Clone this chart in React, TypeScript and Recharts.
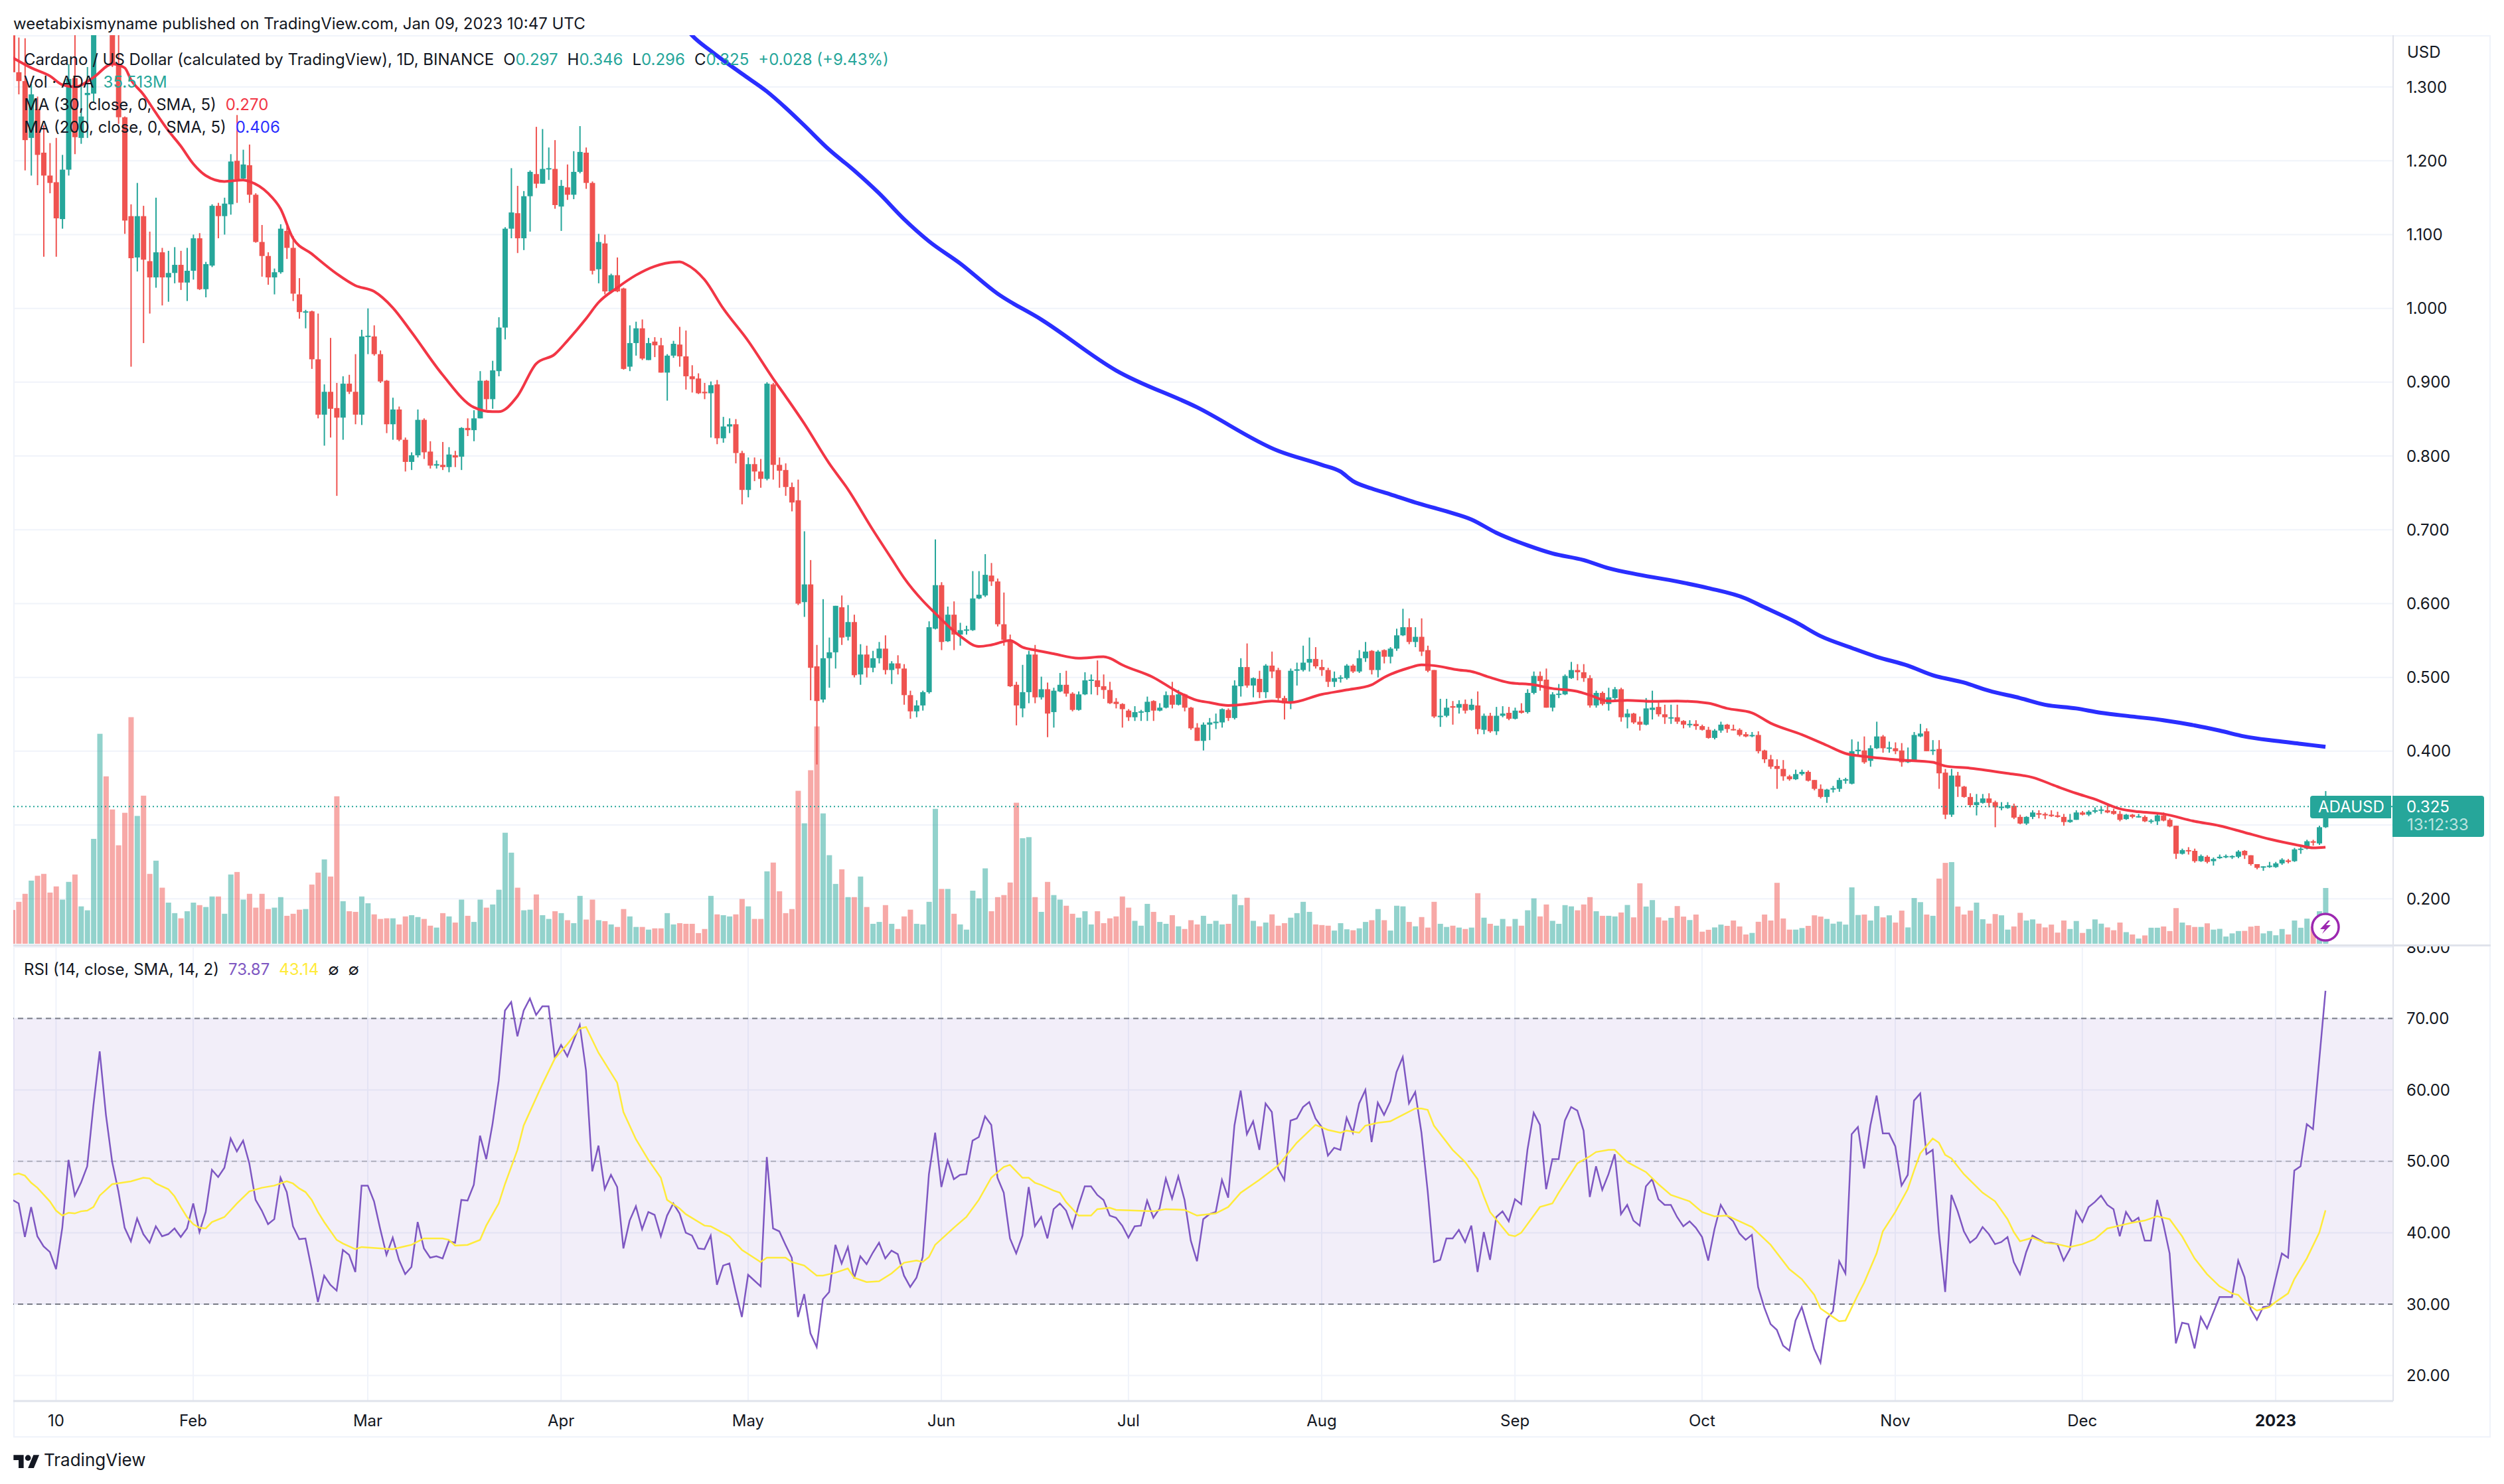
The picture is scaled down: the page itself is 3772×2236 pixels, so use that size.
import React from "react";
import { ComposedChart, Bar, Line, XAxis, YAxis, CartesianGrid, ReferenceLine, ReferenceArea } from "recharts";

// [open, high, low, close] per daily candle
const ohlcJan = [
[1.37,1.4,1.3,1.32],[1.32,1.367,1.29,1.308],[1.308,1.366,1.187,1.228],[1.231,1.304,1.18,1.29],[1.27,1.287,1.167,1.208],[1.211,1.248,1.07,1.18],[1.18,1.224,1.156,1.17],[1.171,1.231,1.07,1.122],[1.121,1.208,1.108,1.188],[1.188,1.331,1.18,1.311],
[1.312,1.38,1.209,1.232],[1.231,1.304,1.223,1.26],[1.289,1.327,1.231,1.292],[1.291,1.46,1.28,1.43],[1.43,1.52,1.4,1.49],[1.49,1.55,1.42,1.45],[1.45,1.47,1.327,1.331],[1.331,1.4,1.25,1.259],[1.259,1.26,1.101,1.119],[1.125,1.141,0.921,1.068],
[1.069,1.17,1.05,1.125],[1.125,1.139,0.953,1.066],[1.064,1.104,0.993,1.042],[1.042,1.15,1.028,1.076],[1.076,1.082,1.004,1.042],[1.042,1.078,1.009,1.048],[1.048,1.083,1.034,1.059],[1.059,1.078,1.025,1.035],[1.035,1.082,1.01,1.051]];
const ohlcFeb = [
[1.051,1.1,1.039,1.095],[1.095,1.102,1.025,1.026],[1.026,1.063,1.015,1.06],[1.058,1.141,1.056,1.139],[1.139,1.143,1.095,1.125],[1.125,1.15,1.1,1.142],[1.141,1.209,1.127,1.199],[1.2,1.262,1.143,1.175],[1.176,1.215,1.174,1.195],[1.194,1.222,1.143,1.154],
[1.154,1.156,1.089,1.09],[1.09,1.113,1.043,1.071],[1.071,1.076,1.032,1.042],[1.042,1.054,1.019,1.049],[1.049,1.114,1.047,1.108],[1.105,1.111,1.067,1.082],[1.082,1.098,1.01,1.02],[1.019,1.041,0.986,0.995],[0.995,0.998,0.973,0.996],[0.996,0.997,0.918,0.931],
[0.931,0.993,0.851,0.856],[0.856,0.897,0.814,0.887],[0.887,0.96,0.825,0.864],[0.865,0.899,0.746,0.852],[0.852,0.908,0.822,0.898],[0.898,0.91,0.884,0.887],[0.887,0.938,0.843,0.856],[0.856,0.971,0.842,0.962]];
const ohlcMar = [
[0.962,1.0,0.938,0.963],[0.962,0.977,0.936,0.938],[0.938,0.943,0.899,0.901],[0.902,0.903,0.831,0.843],[0.843,0.879,0.822,0.863],[0.863,0.867,0.82,0.822],[0.822,0.825,0.779,0.792],[0.792,0.805,0.781,0.801],[0.801,0.863,0.798,0.849],[0.849,0.851,0.796,0.805],
[0.806,0.82,0.783,0.787],[0.787,0.794,0.783,0.789],[0.788,0.819,0.781,0.785],[0.785,0.812,0.778,0.802],[0.801,0.807,0.785,0.798],[0.799,0.839,0.781,0.838],[0.838,0.851,0.827,0.835],[0.835,0.862,0.82,0.851],[0.851,0.915,0.851,0.902],[0.902,0.903,0.863,0.877],
[0.877,0.929,0.864,0.916],[0.915,0.988,0.908,0.974],[0.974,1.11,0.958,1.108],[1.108,1.19,1.095,1.13],[1.129,1.166,1.075,1.095],[1.095,1.159,1.079,1.152],[1.152,1.187,1.104,1.185],[1.182,1.246,1.163,1.169],[1.169,1.243,1.169,1.189],[1.189,1.218,1.174,1.19],[1.189,1.228,1.135,1.14]];
const ohlcApr = [
[1.138,1.174,1.105,1.166],[1.164,1.195,1.147,1.154],[1.154,1.213,1.148,1.185],[1.185,1.247,1.183,1.212],[1.211,1.218,1.162,1.17],[1.17,1.172,1.046,1.051],[1.053,1.101,1.034,1.09],[1.088,1.1,1.019,1.023],[1.023,1.047,1.021,1.045],[1.045,1.069,1.022,1.023],
[1.027,1.028,0.917,0.918],[0.921,0.977,0.915,0.953],[0.953,0.982,0.936,0.973],[0.973,0.985,0.93,0.932],[0.93,0.96,0.93,0.953],[0.955,0.961,0.934,0.95],[0.95,0.96,0.913,0.913],[0.913,0.938,0.875,0.936],[0.936,0.956,0.933,0.952],[0.951,0.975,0.921,0.935],
[0.935,0.97,0.89,0.908],[0.908,0.923,0.886,0.904],[0.905,0.912,0.884,0.885],[0.887,0.899,0.877,0.885],[0.885,0.901,0.825,0.896],[0.897,0.903,0.816,0.824],[0.824,0.853,0.818,0.84],[0.84,0.851,0.831,0.843],[0.843,0.85,0.79,0.804],[0.804,0.807,0.7345,0.754]];
const ohlcMay = [
[0.754,0.798,0.744,0.789],[0.789,0.798,0.766,0.779],[0.779,0.796,0.757,0.769],[0.769,0.9,0.767,0.898],[0.897,0.899,0.768,0.788],[0.788,0.798,0.757,0.78],[0.781,0.79,0.746,0.758],[0.758,0.764,0.725,0.737],[0.74,0.768,0.598,0.6],[0.602,0.698,0.582,0.626],
[0.626,0.659,0.469,0.513],[0.515,0.544,0.382,0.468],[0.47,0.606,0.466,0.526],[0.526,0.554,0.486,0.534],[0.534,0.597,0.512,0.597],[0.595,0.611,0.544,0.554],[0.555,0.598,0.55,0.575],[0.575,0.585,0.5,0.503],[0.504,0.545,0.49,0.531],[0.531,0.543,0.5,0.513],
[0.513,0.536,0.507,0.526],[0.526,0.548,0.519,0.539],[0.539,0.557,0.504,0.51],[0.51,0.522,0.491,0.519],[0.519,0.53,0.504,0.512],[0.512,0.518,0.463,0.476],[0.476,0.482,0.444,0.454],[0.454,0.469,0.446,0.462],[0.462,0.482,0.455,0.48],[0.48,0.576,0.478,0.568],[0.566,0.687,0.565,0.625]];
const ohlcJun = [
[0.625,0.629,0.537,0.548],[0.549,0.596,0.548,0.585],[0.585,0.603,0.537,0.558],[0.558,0.574,0.543,0.564],[0.564,0.57,0.558,0.565],[0.564,0.644,0.563,0.607],[0.607,0.644,0.606,0.612],[0.611,0.667,0.609,0.639],[0.638,0.655,0.624,0.63],[0.63,0.634,0.569,0.572],
[0.572,0.615,0.543,0.551],[0.551,0.558,0.487,0.488],[0.49,0.494,0.435,0.462],[0.458,0.517,0.446,0.48],[0.48,0.536,0.465,0.531],[0.531,0.544,0.465,0.473],[0.473,0.501,0.47,0.484],[0.484,0.493,0.419,0.451],[0.453,0.486,0.432,0.482],[0.481,0.506,0.48,0.49],
[0.49,0.509,0.474,0.478],[0.478,0.48,0.454,0.456],[0.456,0.481,0.455,0.477],[0.477,0.507,0.476,0.496],[0.496,0.504,0.477,0.497],[0.496,0.523,0.476,0.487],[0.488,0.504,0.471,0.483],[0.483,0.494,0.464,0.465],[0.467,0.472,0.458,0.464],[0.464,0.465,0.432,0.457]];
const ohlcJul = [
[0.455,0.457,0.441,0.446],[0.446,0.461,0.441,0.453],[0.453,0.456,0.441,0.454],[0.453,0.474,0.441,0.467],[0.468,0.469,0.441,0.455],[0.455,0.465,0.454,0.459],[0.459,0.481,0.458,0.476],[0.476,0.494,0.458,0.463],[0.463,0.483,0.462,0.477],[0.477,0.478,0.454,0.459],
[0.459,0.46,0.429,0.431],[0.432,0.438,0.414,0.414],[0.414,0.439,0.401,0.436],[0.436,0.445,0.415,0.439],[0.438,0.451,0.43,0.44],[0.439,0.458,0.432,0.457],[0.456,0.458,0.441,0.445],[0.445,0.496,0.443,0.489],[0.488,0.526,0.474,0.514],[0.514,0.546,0.486,0.489],
[0.489,0.5,0.473,0.499],[0.498,0.509,0.472,0.48],[0.48,0.518,0.472,0.516],[0.516,0.535,0.499,0.508],[0.51,0.513,0.467,0.472],[0.472,0.475,0.443,0.465],[0.465,0.512,0.457,0.509],[0.509,0.52,0.489,0.511],[0.51,0.543,0.508,0.52],[0.52,0.554,0.508,0.525],[0.525,0.541,0.512,0.515]];
const ohlcAug = [
[0.514,0.524,0.502,0.51],[0.51,0.513,0.487,0.494],[0.494,0.508,0.487,0.499],[0.499,0.503,0.493,0.5],[0.499,0.518,0.497,0.516],[0.516,0.518,0.506,0.508],[0.508,0.537,0.506,0.526],[0.526,0.548,0.521,0.535],[0.536,0.537,0.504,0.51],[0.51,0.537,0.5,0.535],
[0.537,0.538,0.519,0.528],[0.528,0.541,0.519,0.539],[0.539,0.566,0.536,0.557],[0.557,0.593,0.556,0.568],[0.568,0.58,0.545,0.548],[0.548,0.568,0.541,0.555],[0.555,0.58,0.529,0.535],[0.537,0.543,0.507,0.509],[0.51,0.51,0.445,0.447],[0.447,0.471,0.433,0.448],
[0.448,0.471,0.446,0.459],[0.461,0.468,0.436,0.459],[0.459,0.469,0.451,0.464],[0.464,0.47,0.451,0.455],[0.456,0.471,0.455,0.463],[0.462,0.481,0.423,0.43],[0.429,0.451,0.423,0.448],[0.448,0.452,0.425,0.427],[0.427,0.46,0.422,0.448],[0.448,0.461,0.446,0.451],[0.452,0.46,0.442,0.444]];
const ohlcSep = [
[0.444,0.459,0.443,0.455],[0.455,0.465,0.451,0.452],[0.453,0.484,0.451,0.479],[0.479,0.508,0.477,0.502],[0.502,0.508,0.482,0.495],[0.497,0.512,0.459,0.459],[0.459,0.48,0.454,0.477],[0.477,0.491,0.472,0.478],[0.477,0.504,0.476,0.502],[0.499,0.521,0.498,0.51],
[0.51,0.518,0.496,0.507],[0.507,0.518,0.494,0.499],[0.499,0.503,0.459,0.462],[0.462,0.482,0.459,0.479],[0.479,0.481,0.462,0.464],[0.464,0.486,0.455,0.473],[0.472,0.487,0.47,0.484],[0.484,0.486,0.44,0.446],[0.446,0.457,0.431,0.451],[0.451,0.452,0.437,0.439],
[0.44,0.447,0.428,0.436],[0.436,0.472,0.435,0.458],[0.456,0.482,0.443,0.459],[0.46,0.466,0.447,0.45],[0.45,0.463,0.437,0.446],[0.445,0.463,0.437,0.446],[0.446,0.463,0.437,0.44],[0.441,0.442,0.431,0.436],[0.436,0.442,0.432,0.437],[0.437,0.442,0.429,0.434]];
const ohlcOct = [
[0.434,0.436,0.428,0.429],[0.429,0.433,0.417,0.418],[0.418,0.43,0.416,0.428],[0.428,0.44,0.425,0.436],[0.436,0.437,0.425,0.43],[0.43,0.436,0.428,0.429],[0.429,0.431,0.42,0.422],[0.423,0.426,0.419,0.42],[0.421,0.426,0.419,0.422],[0.422,0.427,0.397,0.4],
[0.401,0.402,0.384,0.389],[0.389,0.395,0.376,0.379],[0.38,0.389,0.349,0.376],[0.376,0.388,0.36,0.366],[0.366,0.368,0.36,0.362],[0.362,0.375,0.361,0.369],[0.369,0.375,0.367,0.372],[0.372,0.374,0.359,0.36],[0.361,0.361,0.347,0.349],[0.349,0.355,0.336,0.338],
[0.338,0.349,0.33,0.348],[0.348,0.353,0.344,0.35],[0.349,0.364,0.345,0.361],[0.36,0.364,0.356,0.362],[0.356,0.416,0.355,0.4],[0.4,0.413,0.394,0.402],[0.401,0.42,0.383,0.385],[0.387,0.408,0.379,0.404],[0.404,0.44,0.403,0.42],[0.42,0.422,0.398,0.404],[0.404,0.413,0.398,0.405]];
const ohlcNov = [
[0.404,0.412,0.396,0.4],[0.401,0.411,0.379,0.385],[0.385,0.405,0.384,0.389],[0.387,0.426,0.386,0.422],[0.42,0.437,0.419,0.424],[0.427,0.431,0.4,0.4],[0.401,0.415,0.395,0.402],[0.403,0.415,0.349,0.37],[0.371,0.376,0.308,0.314],[0.314,0.376,0.311,0.367],
[0.367,0.372,0.338,0.352],[0.352,0.353,0.337,0.338],[0.338,0.343,0.324,0.327],[0.327,0.342,0.313,0.331],[0.33,0.342,0.329,0.336],[0.336,0.343,0.324,0.33],[0.331,0.333,0.297,0.324],[0.323,0.331,0.32,0.325],[0.323,0.331,0.322,0.327],[0.326,0.329,0.308,0.31],
[0.311,0.314,0.301,0.302],[0.302,0.312,0.3,0.311],[0.311,0.32,0.308,0.317],[0.316,0.32,0.309,0.314],[0.315,0.317,0.308,0.313],[0.314,0.32,0.311,0.312],[0.313,0.318,0.31,0.311],[0.311,0.315,0.299,0.304],[0.304,0.315,0.303,0.307],[0.307,0.32,0.307,0.317]];
const ohlcDec = [
[0.317,0.319,0.313,0.314],[0.314,0.32,0.312,0.318],[0.318,0.324,0.316,0.32],[0.32,0.325,0.315,0.321],[0.32,0.327,0.316,0.317],[0.319,0.322,0.314,0.315],[0.315,0.319,0.305,0.307],[0.308,0.315,0.307,0.314],[0.314,0.315,0.309,0.311],[0.311,0.315,0.31,0.312],
[0.311,0.313,0.304,0.305],[0.305,0.308,0.302,0.306],[0.305,0.317,0.3,0.313],[0.313,0.317,0.305,0.306],[0.307,0.309,0.297,0.298],[0.299,0.299,0.254,0.261],[0.261,0.268,0.26,0.266],[0.266,0.27,0.26,0.265],[0.265,0.268,0.249,0.251],[0.251,0.26,0.25,0.258],
[0.257,0.259,0.248,0.25],[0.251,0.256,0.245,0.254],[0.255,0.26,0.254,0.257],[0.257,0.26,0.255,0.258],[0.257,0.259,0.254,0.258],[0.257,0.266,0.255,0.264],[0.265,0.266,0.254,0.259],[0.259,0.259,0.245,0.247],[0.247,0.247,0.24,0.242],[0.243,0.244,0.238,0.244],[0.243,0.25,0.242,0.245]];
const ohlcJan23 = [
[0.243,0.25,0.242,0.248],[0.248,0.255,0.246,0.253],[0.252,0.254,0.248,0.25],[0.251,0.269,0.25,0.267],[0.267,0.27,0.261,0.268],[0.268,0.28,0.267,0.278],[0.278,0.28,0.272,0.276],[0.275,0.299,0.273,0.297],[0.297,0.346,0.296,0.325]];

// Volume in millions
const volumes = [
21.5,26.7,31.8,40.2,43.3,44.5,32.6,36.5,28.1,39.4,44.1,23.8,21.3,66.8,133.7,106.6,85.5,62.7,83.4,144.3,
81.4,94.3,44.5,52.9,35.7,26.2,19.5,16.2,20.7,26.2,24.6,23.4,30.1,30.1,19.1,44.1,45.7,28.1,31.8,23,
31.8,22.1,23,29.7,17.8,19.1,21.7,22.1,37.7,45.3,53.7,42.8,93.9,27.1,20.7,20.3,30.1,25.8,18.7,15.8,
16.2,16.2,12.3,17.4,18.2,17,15.8,11.5,10.3,19.5,17.4,13.5,28.1,17.8,13.9,28.1,23,25,34.4,70.7,
58,35.7,21.3,21.7,31.4,18.2,15.8,20.7,19.5,15,13.1,30.5,15.4,28.1,15,14.4,12.3,10.7,22.1,17.4,
10.7,10.7,9,9.8,9.8,19.5,12.3,13.1,12.7,12.7,6.8,9.4,30.5,18.7,18.2,17.4,18.7,28.5,23.8,15.8,
15.8,46.1,51.7,33.4,19.5,22.1,97.4,76.7,110.5,138.4,83,56.4,38.1,47.4,29.7,29.7,42.8,23.4,12.7,13.9,
24.6,12.7,9.4,17.4,21.7,12.7,12.3,26.7,85.9,34.9,34.9,19.1,12.3,9,33.8,28.9,48,20.7,29.7,31,
39,89.8,67.2,67.9,29.7,20.3,39.4,31,28.1,24.2,19.1,16.6,20.7,12.3,20.7,13.1,16.2,17.4,30.1,23,
14.6,11.5,25.4,20.3,13.9,12.7,18.2,11.1,9.4,15,12.3,17.8,12.7,14.6,12.3,12.7,31.4,24.6,29.3,14.6,
11.1,13.5,18.7,11.5,13.1,16.6,19.5,26.7,20.3,12.3,11.9,11.5,8.4,13.1,9.2,8.6,9.8,13.9,15,22.1,
15,8.4,24.2,23.8,13.9,11.1,17,10.3,26.7,12.7,10.7,11.5,10.3,9.4,10.3,32.2,16.6,12.7,11.5,15.8,
11.1,15.8,11.5,21.3,28.9,17.4,25,14.6,12.7,24.6,23.8,21.3,25,29.7,20.7,17.8,17.8,17.4,19.9,24.7,
16.8,38.5,23.7,27.8,16.8,14.8,16.5,24,17.3,15.1,18.6,7.7,8.9,10.4,12.2,11.4,14.8,11,5.9,6.9,
14,18.6,14.8,38.8,16.1,9,9,10,11.4,18.1,17.3,15.8,12.8,14.1,12.2,35.9,18.3,18.6,14.8,24,
16.8,18.1,13.5,21.1,10.4,29.1,26.5,18.6,17.8,41.5,51.5,52,23.7,18.6,21.1,26.2,15.6,12.8,18.9,18.1,
9,11,19.7,14.8,15.5,12.8,10.4,12.2,7.1,14.8,9.4,14.5,6.9,9.4,15.5,12.8,10.4,8.6,13.5,7.4,
5.9,3.3,5.3,10.2,10.2,11,8.1,22.7,13.5,11.8,10.7,10.7,13,9,9.5,4.6,6.6,8.1,8.2,10.9,
11.4,6.6,8.1,5.4,9.4,5.9,14.8,10.2,16,11,20.7,35.513];

const rsiValues = [
44.6,44.1,39.4,43.6,39.5,38.1,37.3,34.9,40.7,50.2,45.2,47,49.3,57.9,65.4,56.5,49.9,45.8,40.7,38.8,
42,39.8,38.6,40.9,39.5,39.8,40.6,39.4,40.6,44.1,40.1,42.9,48.8,47.8,49.1,53.2,51.4,52.9,49.7,44.6,
43.1,41.2,41.9,47.7,45.7,40.9,39.1,39.2,34.9,30.3,34,32.7,31.9,37.6,36.9,34.5,46.6,46.6,44.4,40.5,
36.9,39.3,36.2,34.2,35.2,41.5,37.8,36.5,36.7,36.4,38.8,38.6,44.6,44.5,46.7,53.6,50.3,55.2,61.3,71.1,
72.3,67.5,71.1,72.8,70.5,71.7,71.7,64.5,66.3,64.7,66.9,69.1,62.7,48.6,52.2,46.1,48.1,46.4,37.8,41.7,
43.7,40.5,42.9,42.5,39.5,42.4,44.1,42.7,40,39.6,37.8,37.7,39.6,32.7,35.4,35.7,31.8,28.2,34.1,33.3,
32.5,50.6,40.6,40.2,38.3,36.5,28.2,31.4,25.9,24,30.7,31.7,38.3,35.7,38,33.6,36.7,35.6,37.2,38.6,
36.4,37.5,37,34,32.4,33.7,36.6,48.2,54,46.4,50.1,47.5,48.1,48.2,52.9,53.4,56.3,55.1,47.7,45.6,
39.2,37.1,39.6,46.4,40.9,42.2,39.2,43.3,44.1,43.1,40.7,43.8,46.5,46.5,45.3,44.6,42.4,42.1,41,39.3,
40.9,41,44.5,42.1,43.4,47.6,44.8,47.9,44.6,38.9,36,41.9,42.6,42.9,47.4,44.9,55,59.9,53.8,55.6,
51.6,58.1,56.9,49,47.4,55.7,56,57.6,58.3,56,54.8,50.8,51.9,51.6,56.1,54,58.1,60,52.7,58.2,
56.5,58.4,62.5,64.6,58.1,59.7,54,45.8,35.9,36.2,39.2,39.2,40.4,38.7,41,34.5,40.1,36.2,42.2,43,
41.6,44.7,44,51.6,56.8,55.1,46.1,50.3,50.3,55.7,57.6,57.1,54.3,45,49.3,46,48.2,51,42.6,43.9,
41.7,41,46.5,47.5,44.7,43.9,43.9,42.2,40.9,41.6,40.7,39.4,36.1,40.5,43.9,42.4,41.6,39.9,39,39.7,
32.4,29.5,27.2,26.4,24.2,23.5,27.7,29.6,26.6,23.7,21.8,27.9,29,36,34.3,53.8,54.8,49,55,59.2,
53.9,53.9,52.1,46.6,48.1,58.5,59.5,51,51.6,40,31.7,45.3,43,40.2,38.6,39.3,40.8,39.8,38.4,38.7,
39.4,35.9,34.2,37.3,39.6,39.1,38.6,38.6,38.4,36.1,37.7,43,41.5,43.6,44.3,45.2,43.9,43.3,39.5,42.9,
41.5,42.1,38.9,38.9,44.6,41.2,37.1,24.5,27.4,27.2,23.8,28.2,26.6,28.8,31,31,31,36.1,33.8,29.3,
27.8,29.6,29.7,33.5,37.1,36.5,48.7,49.3,55.2,54.5,64.2,73.87];

// [day index, value]
const ma30Points = [[0,1.34],[3,1.326],[6,1.315],[8,1.303],[10,1.3],[13,1.313],[16,1.331],[18,1.326],[19,1.31],[21,1.29],[23,1.265],[25,1.241],[27,1.22],[29,1.196],[31,1.18],[34,1.172],[37,1.174],[38,1.172],[41,1.156],[43,1.135],[45,1.095],[48,1.074],[52,1.047],[55,1.031],[58,1.023],[61,1.001],[64,0.968],[69,0.91],[74,0.866],[77,0.86],[78,0.86],[81,0.881],[84,0.925],[87,0.938],[89,0.956],[92,0.986],[94,1.008],[97,1.028],[100,1.045],[103,1.057],[107,1.063],[108,1.06],[111,1.039],[114,1.0],[118,0.956],[122,0.905],[124,0.881],[127,0.844],[131,0.79],[134,0.755],[138,0.7],[141,0.661],[143,0.635],[146,0.604],[148,0.587],[152,0.556],[155,0.542],[157,0.544],[160,0.55],[162,0.541],[164,0.537],[167,0.532],[171,0.526],[175,0.528],[176,0.526],[178,0.517],[183,0.5],[187,0.48],[190,0.469],[192,0.466],[195,0.462],[199,0.465],[202,0.468],[205,0.466],[210,0.477],[214,0.483],[218,0.49],[220,0.5],[224,0.513],[226,0.517],[228,0.516],[232,0.51],[234,0.508],[237,0.5],[240,0.493],[244,0.49],[247,0.485],[251,0.481],[253,0.476],[256,0.468],[259,0.469],[263,0.4675],[267,0.468],[272,0.465],[275,0.458],[279,0.452],[282,0.438],[287,0.4225],[291,0.408],[294,0.397],[298,0.392],[303,0.388],[308,0.385],[310,0.38],[314,0.377],[320,0.37],[324,0.3645],[328,0.352],[331,0.343],[334,0.335],[338,0.322],[341,0.318],[345,0.315],[350,0.305],[354,0.299],[358,0.29],[362,0.281],[367,0.272],[369,0.269],[371,0.27]];
const ma200Points = [[108,1.38],[109,1.37],[112,1.349],[117,1.318],[121,1.294],[124,1.272],[127,1.248],[131,1.215],[135,1.187],[139,1.156],[143,1.121],[147,1.091],[152,1.061],[158,1.02],[165,0.985],[177,0.916],[190,0.866],[203,0.807],[210,0.788],[213,0.779],[215,0.766],[218,0.756],[221,0.748],[225,0.737],[230,0.725],[234,0.714],[238,0.696],[243,0.679],[247,0.668],[252,0.659],[256,0.648],[261,0.639],[267,0.63],[272,0.621],[278,0.607],[281,0.595],[286,0.575],[290,0.556],[295,0.54],[299,0.528],[304,0.516],[308,0.503],[313,0.493],[317,0.482],[322,0.472],[326,0.463],[331,0.458],[335,0.452],[340,0.447],[345,0.442],[350,0.435],[354,0.428],[358,0.42],[363,0.414],[367,0.41],[371,0.406]];
const rsiMaPoints = [[0,48.1],[1,48.3],[2,48],[3,47],[4,46.3],[6,44.4],[7,43.1],[8,42.4],[9,42.8],[10,42.7],[11,43],[12,43.1],[13,43.6],[14,45.2],[16,46.8],[19,47.2],[21,47.7],[22,47.6],[23,46.9],[25,46.1],[26,45.1],[27,43.6],[28,42.2],[29,41.2],[30,40.7],[31,40.6],[32,41.5],[34,42.2],[36,44.1],[38,45.8],[40,46.3],[42,46.6],[44,47.2],[45,46.9],[46,46.2],[47,45.7],[48,44.6],[49,42.9],[50,41.5],[52,39],[53,38.5],[55,37.7],[56,38],[59,37.8],[61,37.7],[63,38.1],[64,38.3],[66,39.2],[69,39.2],[70,39],[71,38.2],[73,38.3],[75,39],[76,41],[78,44.1],[79,46.8],[81,51.6],[82,55],[85,60.8],[87,64.4],[89,66.4],[91,68.6],[92,68.8],[94,65.2],[97,61],[98,56.9],[100,53.1],[102,50.2],[104,47.7],[105,44.6],[107,43.4],[108,42.6],[111,41],[112,40.9],[115,39.5],[117,37.6],[120,35.9],[121,36.5],[124,36.5],[125,35.9],[127,35.4],[129,34],[130,34],[132,34.4],[134,35],[135,33.7],[137,33.1],[139,33.2],[141,34.3],[143,35.8],[145,36.1],[146,35.9],[147,36.6],[148,38.3],[151,40.7],[153,42.2],[155,44.6],[157,47.7],[159,49.2],[160,49.5],[162,47.7],[163,47.7],[164,47],[165,46.7],[167,45.9],[168,45.6],[169,44.3],[171,42.4],[173,42.4],[174,43.3],[176,43.5],[177,43.2],[180,43.1],[183,43],[185,43.3],[188,43.2],[190,42.4],[193,42.7],[195,43.6],[197,45.6],[200,47.4],[203,49.4],[206,52.6],[209,55.1],[211,54.4],[213,54],[214,54.3],[216,54],[217,55],[219,55.4],[221,55.6],[223,56.5],[225,57.4],[226,57.4],[227,57.2],[228,55],[231,51.6],[233,49.9],[235,47.5],[236,45.1],[237,42.9],[240,39.7],[241,39.5],[242,40],[245,43.6],[247,44.1],[248,45.6],[251,49.7],[253,50.7],[254,51.3],[256,51.6],[257,51.6],[259,49.9],[262,48.5],[264,46.8],[266,45.3],[269,44.4],[271,42.9],[273,42.3],[275,42.4],[277,41.6],[279,40.8],[282,38.3],[285,34.9],[287,33.5],[289,31.3],[290,29.4],[292,28.2],[293,27.6],[294,27.7],[296,31.3],[297,33],[299,37.1],[300,40.2],[302,42.9],[304,46.1],[305,48.7],[306,51.1],[308,53.2],[309,52.6],[310,50.9],[311,50.4],[313,48.2],[316,45.6],[318,44.4],[320,41.9],[321,40.1],[322,38.8],[324,39.3],[326,38.6],[328,38.4],[330,38],[332,38.4],[334,39.1],[336,40.6],[338,41],[340,41.4],[342,41.7],[344,42.3],[346,41.9],[348,39.5],[350,36.4],[352,34.2],[354,32.5],[356,31.5],[357,31.3],[358,30.3],[360,29.1],[362,29.6],[363,30.3],[365,31.5],[366,33.5],[368,36.4],[370,40],[371,43.14]];

const priceTicks = [1.3,1.2,1.1,1.0,0.9,0.8,0.7,0.6,0.5,0.4,0.3,0.2];
const rsiTicks = [80,70,60,50,40,30,20];
const dateTicks = [7,29,57,88,118,149,179,210,241,271,302,332,363];
const dateLabels = ["10","Feb","Mar","Apr","May","Jun","Jul","Aug","Sep","Oct","Nov","Dec","2023"];

const UP = "#26a69a";
const DOWN = "#ef5350";
const FONT = "Inter, 'Noto Sans', sans-serif";
const INK = "#131722";
const GRID = "#f0f3fa";
const AXIS = "#e0e3eb";
const FS = 24;

const allOhlc = [...ohlcJan, ...ohlcFeb, ...ohlcMar, ...ohlcApr, ...ohlcMay, ...ohlcJun, ...ohlcJul, ...ohlcAug, ...ohlcSep, ...ohlcOct, ...ohlcNov, ...ohlcDec, ...ohlcJan23];
const lookup = (pts: number[][]) => new Map(pts.map((p) => [p[0], p[1]]));
const ma30Map = lookup(ma30Points);
const ma200Map = lookup(ma200Points);
const rsiMaMap = lookup(rsiMaPoints);
const rows = allOhlc.map((r, i) => ({
  i, o: r[0], h: r[1], l: r[2], c: r[3], range: [r[2], r[1]],
  v: volumes[i], rsi: rsiValues[i],
  ma30: ma30Map.get(i), ma200: ma200Map.get(i), rsiMa: rsiMaMap.get(i),
}));

const X_DOMAIN: [number, number] = [0.138, 381.85];
const PRICE_DOMAIN: [number, number] = [0.1373, 1.3702];
const VOL_DOMAIN: [number, number] = [-0.85, 578.6];
const RSI_DOMAIN: [number, number] = [16.43, 80.28];
const W = 3752;

const Candle = (p: any) => {
  const { x, y, width, height, payload } = p;
  const top = Math.max(payload.o, payload.c);
  const bot = Math.min(payload.o, payload.c);
  const k = height / (payload.h - payload.l);
  const color = payload.c >= payload.o ? UP : DOWN;
  const bodyY = y + (payload.h - top) * k;
  const bodyH = Math.max((top - bot) * k, 2);
  return (
    <g>
      <rect x={x + width / 2 - 1} y={y} width={2} height={height} fill={color} />
      <rect x={x} y={bodyY} width={width} height={bodyH} fill={color} />
    </g>
  );
};
const VolumeBar = (p: any) => (
  <rect x={p.x} y={p.y} width={p.width} height={p.height} fill={p.payload.c >= p.payload.o ? UP : DOWN} fillOpacity={0.5} />
);
const DateTick = (p: any) => {
  const idx = dateTicks.indexOf(p.payload.value);
  const label = dateLabels[idx];
  return (
    <text x={p.x} y={p.y + 29} textAnchor="middle" dominantBaseline="central" fontFamily={FONT} fontSize={FS} fill={INK} fontWeight={label === "2023" ? 700 : 400}>
      {label}
    </text>
  );
};
const abs = (left: number, top: number, extra: any = {}) => ({ position: "absolute" as const, left, top, ...extra });
const Txt = ({ x, y, color = INK, children, size = FS }: any) => (
  <div style={abs(x, y, { transform: "translateY(-50%)", color, fontFamily: FONT, fontSize: size, lineHeight: 1.2, whiteSpace: "nowrap" })}>{children}</div>
);

export default function App() {
  const dateAxis = (
    <XAxis dataKey="i" type="number" domain={X_DOMAIN} allowDataOverflow ticks={dateTicks} interval={0} height={0} tick={false} axisLine={false} tickLine={false} />
  );
  return (
    <div style={{ position: "absolute", left: 0, top: 0, width: 3772, height: 2236, background: "#fff", overflow: "hidden" }}>
      {/* outer frame */}
      <div style={abs(20, 53, { width: W - 20, height: 2166 - 53, boxSizing: "border-box", border: `2px solid ${GRID}` })} />

      {/* RSI pane */}
      <div style={abs(0, 1424)}>
        <ComposedChart width={W} height={742} data={rows} margin={{ left: 20, right: 0, top: 0, bottom: 0 }}>
          <CartesianGrid stroke={GRID} strokeWidth={2} syncWithTicks />
          <XAxis dataKey="i" type="number" domain={X_DOMAIN} allowDataOverflow ticks={dateTicks} interval={0} height={55} tick={DateTick} tickSize={0} tickMargin={0} tickLine={false} axisLine={{ stroke: AXIS, strokeWidth: 3 }} />
          <YAxis orientation="right" width={147} domain={RSI_DOMAIN} allowDataOverflow ticks={rsiTicks} interval={0} tickFormatter={(v: number) => v.toFixed(2)} tick={{ fill: INK, fontFamily: FONT, fontSize: FS }} tickLine={false} tickSize={0} tickMargin={20} axisLine={{ stroke: AXIS, strokeWidth: 2 }} />
          <ReferenceArea y1={30} y2={70} fill="#7e57c2" fillOpacity={0.1} stroke="none" />
          <ReferenceLine y={70} stroke="#787b86" strokeWidth={2} strokeDasharray="8 6" />
          <ReferenceLine y={50} stroke="#787b86" strokeOpacity={0.5} strokeWidth={2} strokeDasharray="8 6" />
          <ReferenceLine y={30} stroke="#787b86" strokeWidth={2} strokeDasharray="8 6" />
          <Line dataKey="rsi" type="linear" stroke="#7e57c2" strokeWidth={2.5} dot={false} isAnimationActive={false} />
          <Line dataKey="rsiMa" type="linear" connectNulls stroke="#ffeb3b" strokeWidth={2.5} dot={false} isAnimationActive={false} />
        </ComposedChart>
      </div>

      {/* Price pane, grid and volume */}
      <div style={abs(0, 53)}>
        <ComposedChart width={W} height={1371} data={rows} margin={{ left: 20, right: 0, top: 0, bottom: 0 }}>
          <CartesianGrid yAxisId="p" stroke={GRID} strokeWidth={2} syncWithTicks />
          {dateAxis}
          <YAxis yAxisId="p" orientation="right" width={147} domain={PRICE_DOMAIN} allowDataOverflow ticks={priceTicks} interval={0} tickFormatter={(v: number) => v.toFixed(3)} tick={{ fill: INK, fontFamily: FONT, fontSize: FS }} tickLine={false} tickSize={0} tickMargin={20} axisLine={{ stroke: AXIS, strokeWidth: 2 }} />
          <YAxis yAxisId="vol" hide domain={VOL_DOMAIN} allowDataOverflow />
          <Bar yAxisId="vol" dataKey="v" barSize={8} shape={VolumeBar} isAnimationActive={false} />
        </ComposedChart>
      </div>
      <div style={abs(20, 1423, { width: W - 20, height: 3, background: AXIS })} />

      {/* Price pane, candles and moving averages */}
      <div style={abs(0, 53)}>
        <ComposedChart width={W} height={1371} data={rows} margin={{ left: 20, right: 147, top: 0, bottom: 0 }}>
          {dateAxis}
          <YAxis yAxisId="p" hide domain={PRICE_DOMAIN} allowDataOverflow />
          <ReferenceLine yAxisId="p" y={0.325} stroke={UP} strokeWidth={2} strokeDasharray="2 4" />
          <Bar yAxisId="p" dataKey="range" barSize={8} shape={Candle} isAnimationActive={false} />
          <Line yAxisId="p" dataKey="ma30" type="monotone" connectNulls stroke="#f23645" strokeWidth={4} dot={false} isAnimationActive={false} />
          <Line yAxisId="p" dataKey="ma200" type="monotone" connectNulls stroke="#2a2eff" strokeWidth={6} dot={false} isAnimationActive={false} />
        </ComposedChart>
      </div>

      {/* Texts */}
      <Txt x={20} y={36}>weetabixismyname published on TradingView.com, Jan 09, 2023 10:47 UTC</Txt>
      <Txt x={36} y={90}>
        Cardano / US Dollar (calculated by TradingView), 1D, BINANCE
        <span style={{ marginLeft: 14 }}>O</span><span style={{ color: UP }}>0.297</span>
        <span style={{ marginLeft: 14 }}>H</span><span style={{ color: UP }}>0.346</span>
        <span style={{ marginLeft: 14 }}>L</span><span style={{ color: UP }}>0.296</span>
        <span style={{ marginLeft: 14 }}>C</span><span style={{ color: UP }}>0.325</span>
        <span style={{ marginLeft: 14, color: UP }}>+0.028 (+9.43%)</span>
      </Txt>
      <Txt x={36} y={124}>Vol · ADA<span style={{ marginLeft: 14, color: UP }}>35.513M</span></Txt>
      <Txt x={36} y={157.5}>MA (30, close, 0, SMA, 5)<span style={{ marginLeft: 14, color: "#f23645" }}>0.270</span></Txt>
      <Txt x={36} y={192}>MA (200, close, 0, SMA, 5)<span style={{ marginLeft: 14, color: "#2a2eff" }}>0.406</span></Txt>
      <Txt x={36} y={1461}>
        RSI (14, close, SMA, 14, 2)<span style={{ marginLeft: 14, color: "#7e57c2" }}>73.87</span>
        <span style={{ marginLeft: 14, color: "#ffeb3b" }}>43.14</span>
        <span style={{ marginLeft: 14 }}>∅</span><span style={{ marginLeft: 14 }}>∅</span>
      </Txt>
      <Txt x={3626} y={79}>USD</Txt>

      {/* Last price labels */}
      <div style={abs(3480, 1199, { width: 122, height: 34, background: UP, borderRadius: "4px 0 0 4px" })} />
      <div style={abs(3604, 1199, { width: 138, height: 62, background: UP, borderRadius: "0 4px 4px 0" })} />
      <Txt x={3492} y={1216} color="#fff">ADAUSD</Txt>
      <Txt x={3625} y={1216} color="#fff">0.325</Txt>
      <Txt x={3626} y={1243} color="rgba(255,255,255,0.7)">13:12:33</Txt>

      {/* Badge */}
      <svg style={abs(3479, 1373)} width={48} height={48} viewBox="-24 -24 48 48">
        <circle r={20} fill="#fff" stroke="#9c27b0" strokeWidth={3.5} />
        <path d="M4,-10 L-8,3 L-1,3 L-5,10 L8,-3 L1,-3 L7,-10 Z" fill="#9c27b0" />
      </svg>

      {/* Logo */}
      <svg style={abs(20, 2188)} width={40} height={24} viewBox="0 0 36 22">
        <path d="M14 22H7V11H0V4h14v18zM28 22h-8l7.5-18h8L28 22z" fill={INK} />
        <circle cx={20} cy={8} r={4} fill={INK} />
      </svg>
      <Txt x={66} y={2200} size={26}>TradingView</Txt>
    </div>
  );
}
